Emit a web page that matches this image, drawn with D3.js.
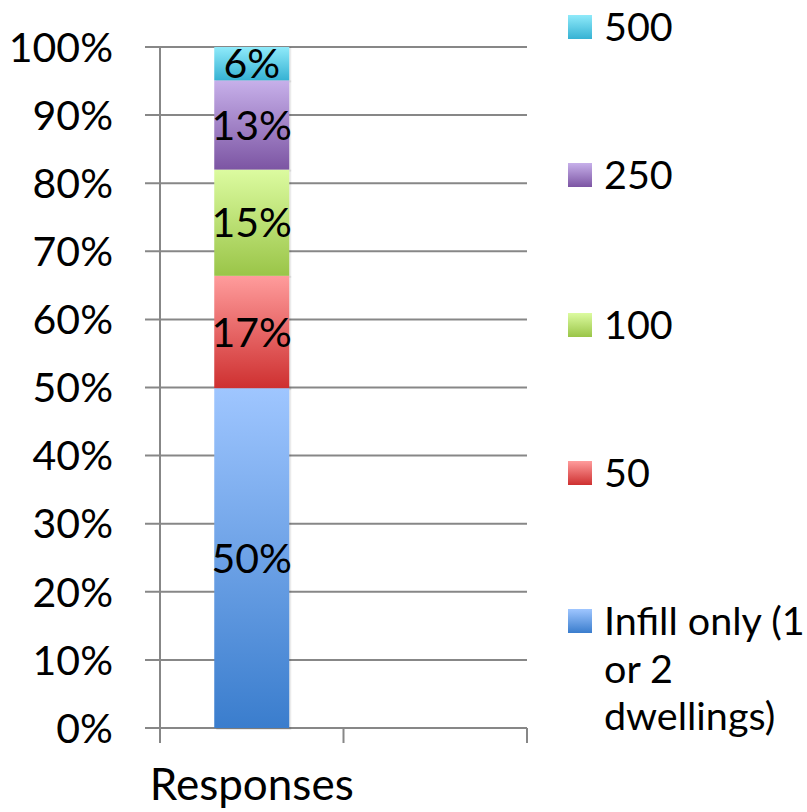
<!DOCTYPE html>
<html><head><meta charset="utf-8">
<script src="https://cdn.jsdelivr.net/npm/d3@7"></script>
<style>body{margin:0;background:#fff}svg{display:block}text{font-family:Lato,"Open Sans",sans-serif;fill:#000}</style>
</head><body><svg id="c" width="807" height="812"></svg>
<script>
const categories = ["Responses", ""];
const seriesNames = ["Infill only (1 or 2 dwellings)", "50", "100", "250", "500"];
const seriesValues = [49.9, 16.5, 15.6, 13.1, 4.9];
const seriesLabels = ["50%", "17%", "15%", "13%", "6%"];
const yTicks = [0,10,20,30,40,50,60,70,80,90,100];
const colorTop = ["#9fc6ff","#ff9c9c","#dcfba0","#c7b0ea","#8feafa"];
const colorBot = ["#3a7dcd","#ce3030","#9ac548","#7c55a3","#36b2d3"];

const svg = d3.select("#c");
const y = d3.scaleLinear().domain([0,100]).range([728,47]);
const x = d3.scaleBand().domain(categories).range([160,527]).paddingInner(0).paddingOuter(0);

const defs = svg.append("defs");
seriesNames.forEach((s,i)=>{
  const g = defs.append("linearGradient").attr("id","g"+i).attr("x1",0).attr("y1",0).attr("x2",0).attr("y2",1);
  g.append("stop").attr("offset","0%").attr("stop-color",colorTop[i]);
  g.append("stop").attr("offset","100%").attr("stop-color",colorBot[i]);
});

// gridlines
svg.append("g").selectAll("line").data(yTicks).join("line")
  .attr("x1",145).attr("x2",527).attr("y1",d=>y(d)).attr("y2",d=>y(d))
  .attr("stroke","#878787").attr("stroke-width",2);
// y axis line
svg.append("line").attr("x1",160).attr("x2",160).attr("y1",y(100)).attr("y2",743).attr("stroke","#878787").attr("stroke-width",2);
// x ticks
const xt = [x.range()[0], x.range()[0]+x.bandwidth(), x.range()[1]];
svg.append("g").selectAll("line").data(xt).join("line")
  .attr("x1",d=>d).attr("x2",d=>d).attr("y1",y(0)).attr("y2",743).attr("stroke","#878787").attr("stroke-width",2);

// y labels
svg.append("g").selectAll("text").data(yTicks).join("text")
  .attr("x",113).attr("y",d=>y(d)).attr("dy","0.36em").attr("text-anchor","end")
  .attr("font-size",41).text(d=>d+"%");

// stacked bar
let cum = 0;
const segs = seriesValues.map((v,i)=>{const s={i,y0:cum,y1:cum+v}; cum+=v; return s;});
const bw = 75;
const bx = x("Responses") + x.bandwidth()/2 - bw/2;
svg.append("g").selectAll("rect.sh").data(segs).join("rect")
  .attr("x",bx+2).attr("y",d=>y(d.y1)).attr("width",bw).attr("height",d=>y(d.y0)-y(d.y1)+2)
  .attr("fill","#000").attr("opacity",0.08);
svg.append("g").selectAll("rect.b").data(segs).join("rect")
  .attr("x",bx).attr("y",d=>y(d.y1)).attr("width",bw).attr("height",d=>y(d.y0)-y(d.y1))
  .attr("fill",d=>`url(#g${d.i})`);
svg.append("g").selectAll("text").data(segs).join("text")
  .attr("x",bx+bw/2).attr("y",d=>y((d.y0+d.y1)/2)).attr("dy","0.36em").attr("text-anchor","middle")
  .attr("font-size",41).text(d=>seriesLabels[d.i]);

// x label
svg.append("text").attr("x",x("Responses")+x.bandwidth()/2).attr("y",800).attr("text-anchor","middle")
  .attr("font-size",44).text(categories[0]);

// legend
const legY = [621,473,325,175,27];
const lg = svg.append("g");
seriesNames.forEach((s,i)=>{
  lg.append("rect").attr("x",568).attr("y",legY[i]-12).attr("width",24).attr("height",24).attr("fill",`url(#g${i})`);
});
const legLines = [["Infill only (1","or 2","dwellings)"],["50"],["100"],["250"],["500"]];
legLines.forEach((lines,i)=>{
  const t = lg.append("text").attr("x",604).attr("y",legY[i]).attr("dy","0.36em").attr("font-size",39.5);
  lines.forEach((l,j)=>t.append("tspan").attr("x",604).attr("dy",j===0?"0.36em":"1.2em").text(l));
});
</script></body></html>
